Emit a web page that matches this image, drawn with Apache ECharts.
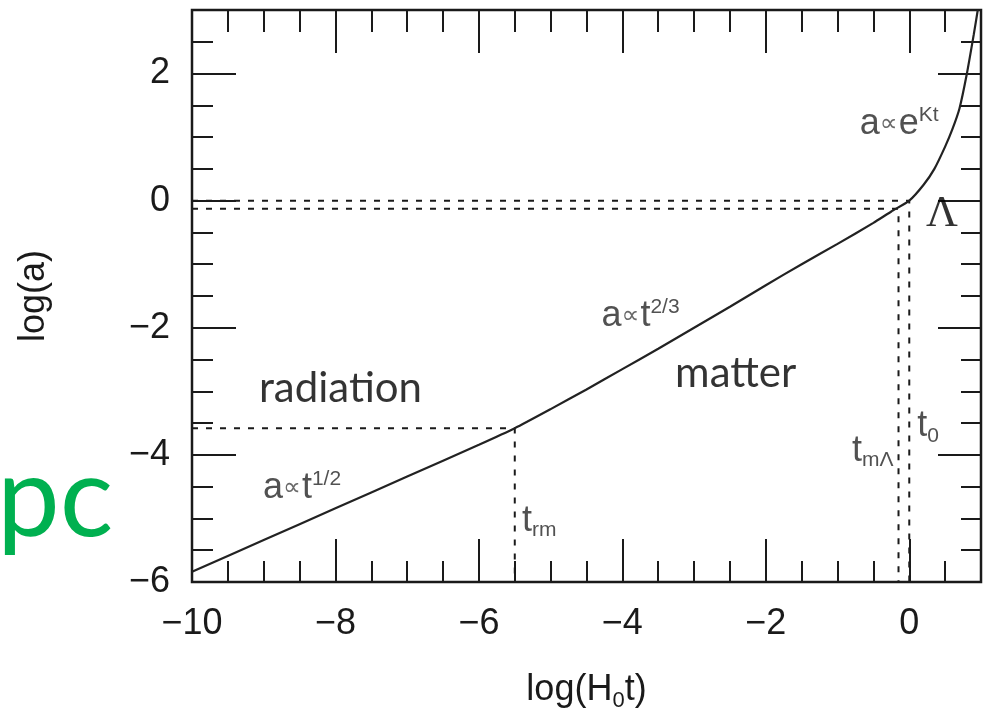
<!DOCTYPE html>
<html>
<head>
<meta charset="utf-8">
<script src="https://cdn.jsdelivr.net/npm/echarts@6/dist/echarts.min.js"></script>
<style>
  html, body { margin: 0; padding: 0; background: #fff; }
  #chart { width: 990px; height: 716px; }
</style>
</head>
<body>
<div id="chart"></div>
<script>
// expansion history a(t)
const logT = [-10, -9, -8, -7, -6, -5.5, -5, -4.5, -4, -3.5, -3, -2.5, -2, -1.5, -1, -0.5, -0.25, 0, 0.2, 0.35, 0.5, 0.6, 0.7, 0.8, 0.9, 0.955];
const logA = [-5.84, -5.34, -4.84, -4.34, -3.84, -3.58, -3.28, -2.97, -2.65, -2.33, -2.0, -1.67, -1.33, -1.0, -0.68, -0.35, -0.17, 0, 0.25, 0.5, 0.85, 1.12, 1.45, 1.98, 2.62, 3.0];

// epochs: radiation-matter equality, matter-Lambda equality, today
const epochNames = ['rm', 'mL', '0'];
const epochT = [-5.5, -0.15, 0];
const epochA = [-3.58, -0.126, 0];

const xRange = [-10, 1];
const yRange = [-6, 3];

// annotation texts and their anchors (data coords)
const noteText = [
  '{m|a}{p|∝}{m|t}{sup|1/2}',
  '{m|a}{p|∝}{m|t}{sup|2/3}',
  '{m|a}{p|∝}{m|e}{sup|Kt}',
  '{m|t}{sub|rm}',
  '{m|t}{sub|mΛ}',
  '{m|t}{sub|0}'
];
const noteAt = [[-9.01, -4.53], [-4.29, -1.82], [-0.69, 1.20], [-5.40, -5.04], [-0.80, -3.94], [0.11, -3.55]];

const wordText = ['radiation', 'matter'];
const wordAt = [[-7.93, -2.96], [-2.42, -2.72]];

const INK = '#1a1a1a';
const NOTE = '#262626';
const SANS = '"Liberation Sans", Arial, Helvetica, sans-serif';
const HUMAN = 'Lato, "Open Sans", sans-serif';

const chart = echarts.init(document.getElementById('chart'), null, { renderer: 'canvas' });

function minus(v) {
  return v < 0 ? '\u2212' + Math.abs(v) : String(v);
}

function makeAxis(kind, pos, interval, len, labels) {
  const range = kind === 'x' ? xRange : yRange;
  return {
    type: 'value',
    position: pos,
    min: range[0],
    max: range[1],
    interval: interval,
    axisLine: { show: false, onZero: false },
    splitLine: { show: false },
    axisTick: { show: true, inside: true, length: len, lineStyle: { color: INK, width: 2 } },
    axisLabel: labels ? {
      show: true,
      showMaxLabel: false,
      formatter: minus,
      color: INK,
      fontFamily: SANS,
      fontSize: 36,
      margin: kind === 'x' ? 24 : 22
    } : { show: false }
  };
}

const xMain = makeAxis('x', 'bottom', 2, 43, true);
xMain.name = '{n|log(H}{s|0}{n|t)}';
xMain.nameLocation = 'middle';
xMain.nameGap = 86;
xMain.nameTextStyle = {
  color: INK, fontFamily: SANS, fontSize: 36,
  rich: {
    n: { fontSize: 36, fontFamily: SANS, color: INK, lineHeight: 44 },
    s: { fontSize: 22, fontFamily: SANS, color: INK, lineHeight: 22, verticalAlign: 'bottom' }
  }
};

const yMain = makeAxis('y', 'left', 2, 44, true);
yMain.name = 'log(a)';
yMain.nameLocation = 'middle';
yMain.nameGap = 140;
yMain.nameTextStyle = { color: INK, fontFamily: SANS, fontSize: 36 };

const annStyle = {
  m: { fontFamily: SANS, fontSize: 36, color: NOTE, lineHeight: 40 },
  p: { fontFamily: '"DejaVu Sans", sans-serif', fontSize: 25, color: '#444', lineHeight: 40, padding: [0, 1, 0, 0] },
  sup: { fontFamily: SANS, fontSize: 21, color: NOTE, lineHeight: 21, verticalAlign: 'top' },
  sub: { fontFamily: SANS, fontSize: 21, color: NOTE, lineHeight: 18, verticalAlign: 'bottom' }
};

const dash = { color: INK, width: 2, type: [6, 8] };

function guide(i) {
  // horizontal from the left frame to the epoch, then down to the bottom frame
  return [[xRange[0], epochA[i]], [epochT[i], epochA[i]], [epochT[i], yRange[0]]];
}

const option = {
  animation: false,
  backgroundColor: '#ffffff',
  grid: {
    left: 192, right: 9, top: 10, bottom: 134,
    show: true, borderColor: INK, borderWidth: 2.5,
    outerBoundsMode: 'none'
  },
  xAxis: [
    xMain,
    makeAxis('x', 'bottom', 0.5, 21, false),
    makeAxis('x', 'top', 2, 43, false),
    makeAxis('x', 'top', 0.5, 22, false)
  ],
  yAxis: [
    yMain,
    makeAxis('y', 'left', 0.5, 21, false),
    makeAxis('y', 'right', 2, 43, false),
    makeAxis('y', 'right', 0.5, 20, false)
  ],
  // leftover slide text, partly cut by the left edge
  graphic: [
    { type: 'text', left: -3, top: 444, style: { text: 'pc', font: '112px ' + HUMAN, fill: '#00B050' } }
  ],
  series: [
    {
      type: 'line',
      name: 'a(t)',
      data: logT.map((t, i) => [t, logA[i]]),
      showSymbol: false,
      smooth: 0.2,
      z: 5,
      lineStyle: { color: '#222', width: 2.2 }
    },
    ...epochNames.map((n, i) => ({
      type: 'line',
      name: 't_' + n,
      data: guide(i),
      showSymbol: false,
      lineStyle: dash
    })),
    {
      type: 'scatter',
      name: 'notes',
      symbolSize: 1,
      itemStyle: { color: 'transparent' },
      silent: true,
      data: noteAt,
      label: {
        show: true,
        position: 'inside',
        align: 'left',
        verticalAlign: 'middle',
        formatter: p => noteText[p.dataIndex],
        rich: annStyle
      }
    },
    {
      type: 'scatter',
      name: 'words',
      symbolSize: 1,
      itemStyle: { color: 'transparent' },
      silent: true,
      data: wordAt,
      label: {
        show: true,
        position: 'inside',
        align: 'center',
        verticalAlign: 'middle',
        formatter: p => wordText[p.dataIndex],
        fontFamily: HUMAN,
        fontSize: 42,
        color: '#000'
      }
    },
    {
      type: 'scatter',
      name: 'Lambda',
      symbolSize: 1,
      itemStyle: { color: 'transparent' },
      silent: true,
      data: [[0.456, -0.22]],
      label: {
        show: true,
        position: 'inside',
        formatter: 'Λ',
        fontFamily: '"Liberation Serif", "Times New Roman", serif',
        fontSize: 44,
        color: '#000'
      }
    }
  ]
};

chart.setOption(option);
</script>
</body>
</html>
